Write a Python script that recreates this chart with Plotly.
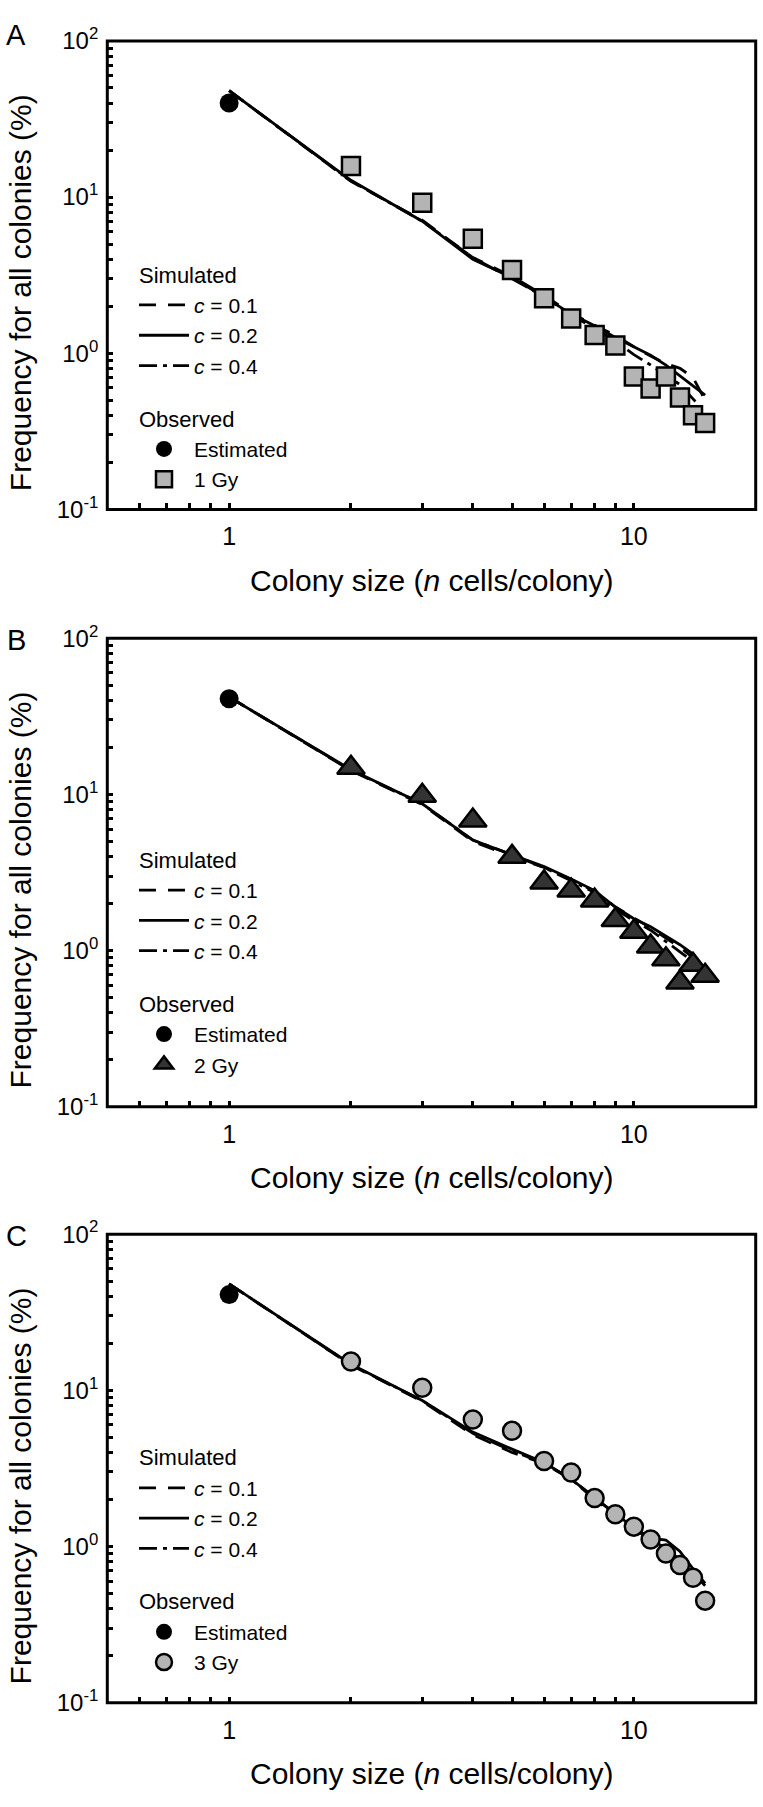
import plotly.graph_objects as go

# ---------------- data ----------------
colony_size = list(range(1, 16))          # simulated curves, n = 1..15
est_size = [1]
obs_size = list(range(2, 16))             # observed, n = 2..15

major_x = [1, 10]
tick_x = [0.6, 0.7, 0.8, 0.9, 1, 2, 3, 4, 5, 6, 7, 8, 9, 10]
tick_x_text = ["", "", "", "", "1", "", "", "", "", "", "", "", "", "10"]
major_y = [0.1, 1, 10, 100]
tick_y = [0.1, 0.2, 0.3, 0.4, 0.5, 0.6, 0.7, 0.8, 0.9,
          1, 2, 3, 4, 5, 6, 7, 8, 9,
          10, 20, 30, 40, 50, 60, 70, 80, 90, 100]
tick_y_text = ["10<sup>-1</sup>"] + [""] * 8 + ["10<sup>0</sup>"] + [""] * 8 + \
              ["10<sup>1</sup>"] + [""] * 8 + ["10<sup>2</sup>"]

# Panel A (1 Gy)
sim_A_c01 = [48, 12.6, 7.1, 4.1, 3.1, 2.35, 1.8, 1.52, 1.3, 1.1, 0.96, 0.86, 0.80, 0.70, 0.50]
sim_A_c02 = [48, 12.8, 7.0, 4.0, 3.05, 2.3, 1.78, 1.5, 1.26, 1.1, 0.97, 0.84, 0.72, 0.62, 0.54]
sim_A_c04 = [48, 12.7, 7.0, 4.1, 3.0, 2.3, 1.75, 1.45, 1.2, 0.98, 0.84, 0.72, 0.63, 0.51, 0.42]
est_A = [40]
obs_A = [15.8, 9.2, 5.4, 3.41, 2.25, 1.67, 1.31, 1.12, 0.71, 0.595, 0.71, 0.52, 0.40, 0.358]

# Panel B (2 Gy)
sim_B_c01 = [42, 14.2, 8.6, 5.0, 4.0, 3.4, 2.85, 2.4, 1.9, 1.62, 1.4, 1.2, 1.05, 0.9, 0.72]
sim_B_c02 = [42, 14.4, 8.7, 5.1, 4.1, 3.45, 2.87, 2.42, 1.9, 1.6, 1.42, 1.23, 1.09, 0.95, 0.75]
sim_B_c04 = [42, 14.3, 8.7, 5.1, 4.1, 3.4, 2.8, 2.35, 1.85, 1.55, 1.35, 1.15, 0.98, 0.85, 0.70]
est_B = [41]
obs_B = [14.8, 9.8, 6.8, 3.98, 2.73, 2.42, 2.09, 1.57, 1.32, 1.06, 0.88, 0.625, 0.81, 0.69]

# Panel C (3 Gy)
sim_C_c01 = [48, 14.5, 8.5, 5.2, 4.0, 3.4, 2.7, 2.05, 1.6, 1.3, 1.1, 0.98, 0.82, 0.68, 0.56]
sim_C_c02 = [48, 14.7, 8.6, 5.4, 4.2, 3.45, 2.7, 2.05, 1.62, 1.32, 1.13, 1.1, 0.93, 0.72, 0.58]
sim_C_c04 = [48, 14.6, 8.6, 5.3, 4.1, 3.4, 2.7, 2.0, 1.6, 1.3, 1.1, 0.95, 0.80, 0.68, 0.58]
est_C = [41]
obs_C = [15.3, 10.4, 6.5, 5.5, 3.53, 2.98, 2.04, 1.61, 1.34, 1.11, 0.90, 0.76, 0.63, 0.45]

sim_names = ["<i>c</i> = 0.1", "<i>c</i> = 0.2", "<i>c</i> = 0.4"]
dose_names = ["1 Gy", "2 Gy", "3 Gy"]
panel_letters = ["A", "B", "C"]

# ---------------- styling / layout ----------------
W, H = 763, 1807
FONT = "Liberation Sans, Arial, sans-serif"
plot_left, plot_right = 107.3, 755.7
panel_tops = [24.3, 631.7, 1237.7]
panel_h = 476.4
legend_tops = [240.2, 835.2, 1443.0]
legend_left = 134
letter_y = [18.7, 634, 1240]
ytitle_off = 256.5
xtitle_off = 72.3

dashes = ["17px,12px", "solid", "18px,6px,4px,6px"]
obs_styles = [
    dict(symbol="square", size=18, color="#b4b4b4"),
    dict(symbol="triangle-up", size=24, color="#333333"),
    dict(symbol="circle", size=18, color="#b4b4b4"),
]

panels = [
    ([sim_A_c01, sim_A_c02, sim_A_c04], est_A, obs_A),
    ([sim_B_c01, sim_B_c02, sim_B_c04], est_B, obs_B),
    ([sim_C_c01, sim_C_c02, sim_C_c04], est_C, obs_C),
]

fig = go.Figure()
layout = dict(
    width=W, height=H,
    margin=dict(l=0, r=0, t=0, b=0),
    paper_bgcolor="white", plot_bgcolor="white",
    font=dict(family=FONT, color="black"),
    showlegend=True,
    annotations=[],
    shapes=[],
)

X_RANGE = [-0.30103, 1.30103]
Y_RANGE = [-1, 2]
TICK = dict(ticks="inside", tickwidth=2.5, tickcolor="black",
            showgrid=False, zeroline=False, showline=False)

axis_id = 4
for i, (sims, est, obs) in enumerate(panels):
    sfx = "" if i == 0 else str(i + 1)
    xa, ya = "x" + sfx, "y" + sfx
    leg = "legend" + sfx
    for j in range(3):
        fig.add_trace(go.Scatter(
            x=colony_size, y=sims[j], mode="lines", name=sim_names[j],
            line=dict(color="black", width=2.8, dash=dashes[j]),
            xaxis=xa, yaxis=ya, legend=leg,
            legendgroup=f"sim{i}",
            legendgrouptitle=dict(text="Simulated", font=dict(size=22, family=FONT)),
        ))
    fig.add_trace(go.Scatter(
        x=est_size, y=est, mode="markers", name="Estimated",
        marker=dict(symbol="circle", size=19, color="black", line=dict(width=0)),
        xaxis=xa, yaxis=ya, legend=leg,
        legendgroup=f"obs{i}",
        legendgrouptitle=dict(text="Observed", font=dict(size=22, family=FONT)),
    ))
    st = obs_styles[i]
    fig.add_trace(go.Scatter(
        x=obs_size, y=obs, mode="markers", name=dose_names[i],
        marker=dict(symbol=st["symbol"], size=st["size"], color=st["color"],
                    line=dict(color="black", width=2.5)),
        xaxis=xa, yaxis=ya, legend=leg,
        legendgroup=f"obs{i}",
    ))

    top = panel_tops[i]
    bot = top + panel_h
    ydom = [1 - bot / H, 1 - top / H]
    xdom = [plot_left / W, plot_right / W]

    # main axes: short ticks everywhere, labels on the decades
    layout["xaxis" + sfx] = dict(
        type="log", range=X_RANGE, domain=xdom, anchor=ya,
        tickmode="array", tickvals=tick_x, ticktext=tick_x_text, ticklen=6,
        ticklabelstandoff=10,
        tickfont=dict(size=25, family=FONT), **TICK,
    )
    layout["yaxis" + sfx] = dict(
        type="log", range=Y_RANGE, domain=ydom, anchor=xa,
        tickmode="array", tickvals=tick_y, ticktext=tick_y_text, ticklen=6,
        ticklabelstandoff=8,
        tickfont=dict(size=24, family=FONT), **TICK,
    )
    # extra overlay axes: long decade ticks (bottom/left) and ticks on top/right
    for side, vals, ln in (("bottom", major_x, 11), ("top", tick_x, 6), ("top", major_x, 11)):
        layout[f"xaxis{axis_id}"] = dict(
            type="log", range=X_RANGE, overlaying=xa, anchor=ya, side=side,
            tickmode="array", tickvals=vals, ticklen=ln, showticklabels=False, **TICK,
        )
        axis_id += 1
    for side, vals, ln in (("left", major_y, 11), ("right", tick_y, 6), ("right", major_y, 11)):
        layout[f"yaxis{axis_id}"] = dict(
            type="log", range=Y_RANGE, overlaying=ya, anchor=xa, side=side,
            tickmode="array", tickvals=vals, ticklen=ln, showticklabels=False, **TICK,
        )
        axis_id += 1
    # plot frame
    layout["shapes"].append(dict(
        type="rect", xref=xa + " domain", yref=ya + " domain",
        x0=0, x1=1, y0=0, y1=1, line=dict(color="black", width=3), layer="above",
    ))
    layout[leg] = dict(
        x=legend_left / W, y=1 - legend_tops[i] / H, xanchor="left", yanchor="top",
        font=dict(size=21, family=FONT), bgcolor="rgba(0,0,0,0)",
        borderwidth=0, tracegroupgap=21.5, itemwidth=50, traceorder="grouped",
        grouptitlefont=dict(size=22, family=FONT),
    )
    layout["annotations"] += [
        dict(text=panel_letters[i], xref="paper", yref="paper",
             x=16 / W, y=1 - letter_y[i] / H, xanchor="center", yanchor="middle",
             showarrow=False, font=dict(size=29, family=FONT)),
        dict(text="Frequency for all colonies (%)", xref="paper", yref="paper",
             x=20 / W, y=1 - (top + ytitle_off) / H, xanchor="center", yanchor="middle",
             textangle=-90, showarrow=False, font=dict(size=30, family=FONT)),
        dict(text="Colony size (<i>n</i> cells/colony)", xref="paper", yref="paper",
             x=(plot_left + plot_right) / 2 / W, y=1 - (bot + xtitle_off) / H,
             xanchor="center", yanchor="middle",
             showarrow=False, font=dict(size=30, family=FONT)),
    ]

fig.update_layout(**layout)
fig.write_html(
    "out.html",
    config={"displayModeBar": False},
    post_script="document.body.style.margin='0';document.body.style.overflow='hidden';",
)
